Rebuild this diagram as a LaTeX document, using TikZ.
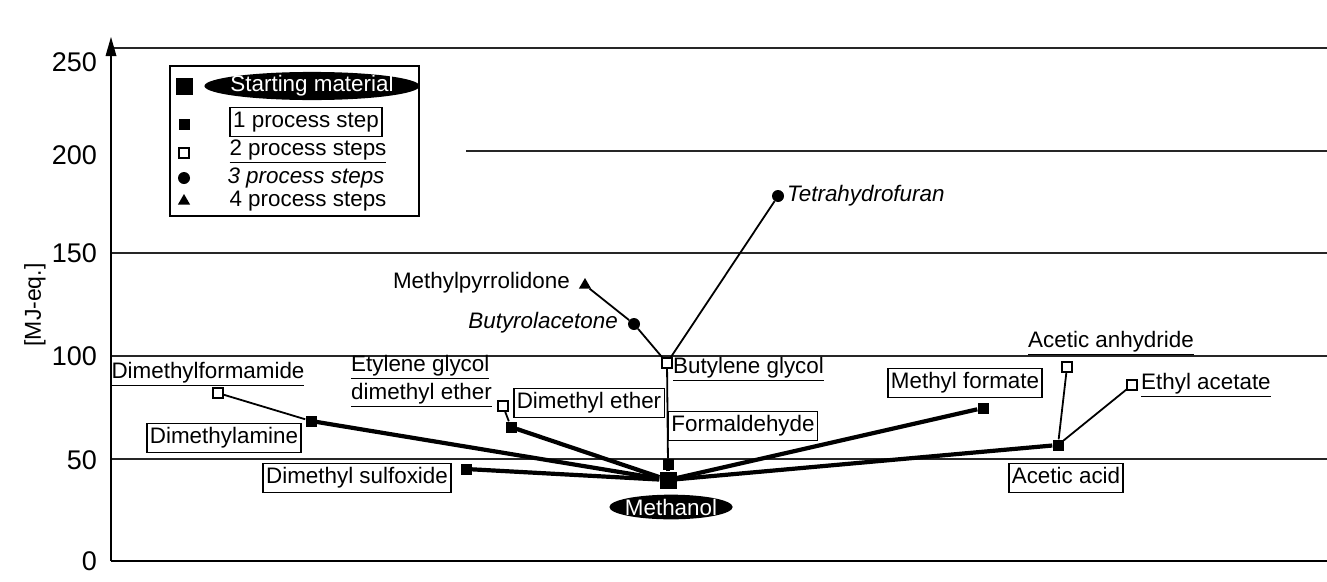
\documentclass[tikz,border=0pt]{standalone}
\usepackage{fontspec}
\setmainfont{Liberation Sans}
\usetikzlibrary{shapes.geometric,arrows.meta}
\begin{document}
\begin{tikzpicture}[x=1pt,y=-1pt,
  every node/.style={font=\fontsize{22.4}{28}\selectfont},
  lbl/.style={inner sep=0pt, text height=16pt, text depth=4.5pt},
  boxed/.style={draw, line width=1.4pt, inner xsep=3pt, inner ysep=4pt, text height=16pt, text depth=4.5pt},
  blob/.style={ellipse, fill=black, text=white, inner xsep=-2.5pt, inner ysep=0.5pt},
  mbig/.style={rectangle, fill=black, minimum size=17pt, inner sep=0pt},
  msq/.style={rectangle, fill=black, minimum size=11pt, inner sep=0pt},
  mosq/.style={rectangle, draw, line width=1.2pt, fill=white, minimum size=10pt, inner sep=0pt},
  mdot/.style={circle, fill=black, minimum size=12pt, inner sep=0pt},
  mtri/.style={regular polygon, regular polygon sides=3, fill=black, minimum size=14pt, inner sep=0pt},
  gridline/.style={line width=1.3pt, black!85},
  axisline/.style={line width=2pt},
  tick/.style={anchor=east, inner sep=0pt, font=\fontsize{27}{32}\selectfont},
  boldlink/.style={line width=4.2pt},
  finelink/.style={line width=1.8pt},
]
\useasboundingbox (0,0) rectangle (1327,581);

% grid
\draw[gridline] (111,48) -- (1327,48);
\draw[gridline] (466,151) -- (1327,151);
\draw[gridline] (111,253) -- (1327,253);
\draw[gridline] (111,356) -- (1327,356);
\draw[gridline] (111,459) -- (1327,459);
\draw[axisline] (111,561) -- (1327,561);
\draw[axisline] (111,561) -- (111,50);
\fill (111,37) -- (105.5,56) -- (116.5,56) -- cycle;

% ticks
\node[tick] (t250) at (97,62) {250};
\node[tick] (t200) at (97,155) {200};
\node[tick] (t150) at (97,253) {150};
\node[tick] (t100) at (97,356) {100};
\node[tick] (t50) at (97,460) {50};
\node[tick] (t0) at (97,561) {0};
\node[rotate=90, font=\fontsize{23}{28}\selectfont] (ylab) at (35,305) {[MJ-eq.]};

% legend
\draw[line width=1.4pt] (170,66) rectangle (419,216);
\node[mbig] (lg0) at (184,86) {};
\node[blob, inner xsep=-5.5pt, inner ysep=-0.5pt] (lt0) at (312,86) {Starting material};
\node[msq] (lg1) at (184,124) {};
\node[boxed] (lt1) at (306,122) {1 process step};
\node[mosq] (lg2) at (184,153) {};
\node[lbl] (lt2) at (308,150) {\underline{2 process steps}};
\node[mdot] (lg3) at (184,178) {};
\node[lbl] (lt3) at (306,178) {\itshape 3 process steps};
\node[mtri] (lg4) at (184,201) {};
\node[lbl] (lt4) at (308,201) {4 process steps};

% data markers
\node[mbig] (meth) at (668,480) {};
\node[msq] (form) at (668,464) {};
\node[mosq] (bgly) at (667,363) {};
\node[mdot] (gbl) at (634,324) {};
\node[mtri] (nmp) at (585,285) {};
\node[mdot] (thf) at (778,196) {};
\node[msq] (dme) at (511,427) {};
\node[mosq] (egde) at (503,406) {};
\node[msq] (dma) at (311,421) {};
\node[mosq] (dmf) at (218,393) {};
\node[msq] (dmso) at (466,469) {};
\node[msq] (mf) at (983,408) {};
\node[msq] (aa) at (1058,445) {};
\node[mosq] (aan) at (1067,367) {};
\node[mosq] (ea) at (1132,385) {};

% connectors
\draw[boldlink] (meth) -- (dma);
\draw[boldlink] (meth) -- (dme);
\draw[boldlink] (meth) -- (dmso);
\draw[boldlink] (meth) -- (mf);
\draw[boldlink] (meth) -- (aa);
\draw[boldlink] (meth) -- (form);
\draw[finelink] (form) -- (bgly);
\draw[finelink] (bgly) -- (gbl);
\draw[finelink] (gbl) -- (nmp);
\draw[finelink] (bgly) -- (thf);
\draw[finelink] (dme) -- (egde);
\draw[finelink] (dma) -- (dmf);
\draw[finelink] (aa) -- (aan);
\draw[finelink] (aa) -- (ea);

% labels
\node[blob] (lmeth) at (671,507) {Methanol};
\node[boxed] (lform) at (743,426) {Formaldehyde};
\node[lbl, anchor=west] (lbgly) at (673,368) {\underline{Butylene glycol}};
\node[lbl, anchor=east] (lgbl) at (618,323) {\itshape Butyrolacetone};
\node[lbl, anchor=east] (lnmp) at (570,283) {Methylpyrrolidone};
\node[lbl, anchor=west] (lthf) at (787,196) {\itshape Tetrahydrofuran};
\node[boxed] (ldme) at (589,403) {Dimethyl ether};
\node[anchor=west, align=left, inner sep=0pt] (legde) at (351,381) {\underline{Etylene glycol}\\\underline{dimethyl ether}};
\node[boxed] (ldma) at (224,438) {Dimethylamine};
\node[lbl] (ldmf) at (208,373) {\underline{Dimethylformamide}};
\node[boxed] (ldmso) at (357,478) {Dimethyl sulfoxide};
\node[boxed] (lmf) at (965,383) {Methyl formate};
\node[lbl] (laan) at (1111,342) {\underline{Acetic anhydride}};
\node[lbl, anchor=west] (lea) at (1141,384) {\underline{Ethyl acetate}};
\node[boxed] (laa) at (1066,478) {Acetic acid};
\end{tikzpicture}
\end{document}
